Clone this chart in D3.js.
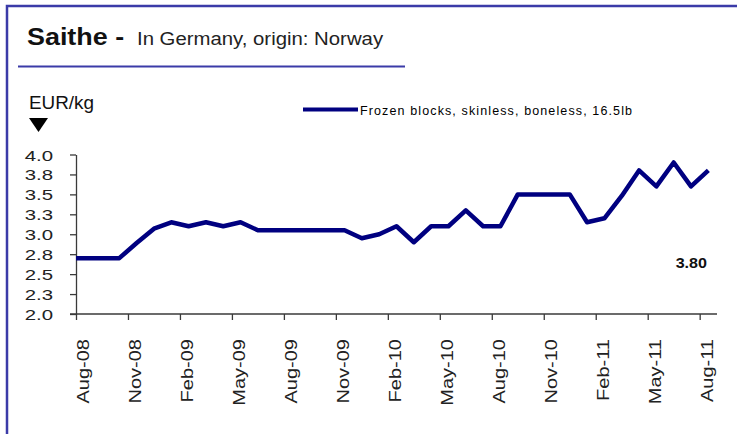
<!DOCTYPE html>
<html>
<head>
<meta charset="utf-8">
<script src="https://cdn.jsdelivr.net/npm/d3@7"></script>
<style>
  body { margin: 0; background: #fff; }
  svg { display: block; font-family: "Liberation Sans", Arial, sans-serif; }
</style>
</head>
<body>
<svg id="chart" width="737" height="434"></svg>
<script>
'use strict';

// monthly prices, EUR/kg (Jul-08 sits left of the axis and gets clipped)
const months = ["Jul-08","Aug-08","Sep-08","Oct-08","Nov-08","Dec-08",
	"Jan-09","Feb-09","Mar-09","Apr-09","May-09","Jun-09","Jul-09","Aug-09","Sep-09","Oct-09","Nov-09","Dec-09",
	"Jan-10","Feb-10","Mar-10","Apr-10","May-10","Jun-10","Jul-10","Aug-10","Sep-10","Oct-10","Nov-10","Dec-10",
	"Jan-11","Feb-11","Mar-11","Apr-11","May-11","Jun-11","Jul-11","Aug-11"];
const prices = [2.70, 2.70, 2.70, 2.70, 2.89, 3.07,
	3.15, 3.10, 3.15, 3.10, 3.15, 3.05, 3.05, 3.05, 3.05, 3.05, 3.05, 2.95,
	3.00, 3.10, 2.90, 3.10, 3.10, 3.30, 3.10, 3.10, 3.50, 3.50, 3.50, 3.50,
	3.15, 3.20, 3.48, 3.80, 3.60, 3.90, 3.60, 3.80];
const xTickLabels = ["Aug-08","Nov-08","Feb-09","May-09","Aug-09","Nov-09","Feb-10",
	"May-10","Aug-10","Nov-10","Feb-11","May-11","Aug-11"];
const yTicks = [2.0, 2.25, 2.5, 2.75, 3.0, 3.25, 3.5, 3.75, 4.0];
const yTickLabels = ["2.0","2.3","2.5","2.8","3.0","3.3","3.5","3.8","4.0"];
const seriesName = "Frozen blocks, skinless, boneless, 16.5lb";
const lastLabel = "3.80";

const navy = "#000080",
	frame = "#3b3ba8",
	axisColor = "#3a3a3a";

let svg = d3.select("#chart");

let plotLeft = 76, plotRight = 717, plotTop = 154.5, plotBottom = 314;

// x: month index, Aug-08 start .. Sep-11 start, points sit mid-month
let x = d3.scaleLinear()
	.domain([1, months.length])
	.range([plotLeft, plotRight]);
let y = d3.scaleLinear()
	.domain([2, 4])
	.range([plotBottom, plotTop]);

// frame
svg.append("path")
	.attr("d", "M7,434V6H737")
	.attr("fill", "none")
	.attr("stroke", frame)
	.attr("stroke-width", 2.5);

// title
svg.append("text")
	.attr("transform", "translate(27,45) scale(1.17,1)")
	.attr("font-size", 23)
	.attr("font-weight", "bold")
	.attr("fill", "#111")
	.text("Saithe -");
svg.append("text")
	.attr("transform", "translate(137,45) scale(1.1,1)")
	.attr("font-size", 18.5)
	.attr("fill", "#222")
	.text("In Germany, origin: Norway");
svg.append("line")
	.attr("x1", 18).attr("x2", 405)
	.attr("y1", 66.5).attr("y2", 66.5)
	.attr("stroke", frame)
	.attr("stroke-width", 2);

// unit + arrow
svg.append("text")
	.attr("transform", "translate(29,109) scale(1.05,1)")
	.attr("font-size", 18)
	.attr("fill", "#111")
	.text("EUR/kg");
svg.append("path")
	.attr("d", "M29,118L48,118L38.5,132Z")
	.attr("fill", "#000");

// legend
svg.append("line")
	.attr("x1", 303).attr("x2", 358)
	.attr("y1", 109.5).attr("y2", 109.5)
	.attr("stroke", navy)
	.attr("stroke-width", 4);
svg.append("text")
	.attr("x", 360).attr("y", 114.5)
	.attr("font-size", 12.5)
	.attr("letter-spacing", "1.12px")
	.attr("fill", "#000")
	.text(seriesName);

// y axis
let yAxis = svg.append("g")
	.attr("transform", "translate(" + plotLeft + ",0)")
	.call(d3.axisLeft(y).tickValues(yTicks)
		.tickFormat((d, i) => yTickLabels[i])
		.tickSize(6).tickSizeOuter(0));
yAxis.selectAll("text")
	.attr("x", null).attr("dy", null)
	.attr("transform", "translate(-23,5.5) scale(1.36,1)")
	.attr("font-size", 15)
	.attr("fill", "#222");

// x axis
let xTicks = xTickLabels.map(l => months.indexOf(l));
let xAxis = svg.append("g")
	.attr("transform", "translate(0," + plotBottom + ")")
	.call(d3.axisBottom(x).tickValues(xTicks)
		.tickFormat((d, i) => xTickLabels[i])
		.tickSize(6).tickSizeOuter(0));
xAxis.selectAll("text")
	.attr("y", null).attr("dy", null)
	.attr("text-anchor", "end")
	.attr("transform", "translate(12.5,25) rotate(-90) scale(1.25,1)")
	.attr("font-size", 16)
	.attr("fill", "#222");

// x axis line reaches back to the y tick marks
xAxis.select(".domain").attr("d", "M" + (plotLeft - 6) + ",0H" + plotRight);

svg.selectAll(".domain, .tick line")
	.attr("stroke", axisColor)
	.attr("stroke-width", 1.3);

// series line, clipped to the plot area like the original
svg.append("clipPath").attr("id", "plot")
	.append("rect")
	.attr("x", plotLeft).attr("y", plotTop - 20)
	.attr("width", plotRight - plotLeft + 10).attr("height", plotBottom - plotTop + 20);

let line = d3.line()
	.x((d, i) => x(i + 0.5))
	.y(d => y(d));

svg.append("path")
	.datum(prices)
	.attr("clip-path", "url(#plot)")
	.attr("d", line)
	.attr("fill", "none")
	.attr("stroke", navy)
	.attr("stroke-width", 4.5)
	.attr("stroke-linejoin", "round");

// last value
svg.append("text")
	.attr("transform", "translate(707,268) scale(1.15,1)")
	.attr("text-anchor", "end")
	.attr("font-size", 14)
	.attr("font-weight", "bold")
	.attr("fill", "#111")
	.text(lastLabel);
</script>
</body>
</html>
